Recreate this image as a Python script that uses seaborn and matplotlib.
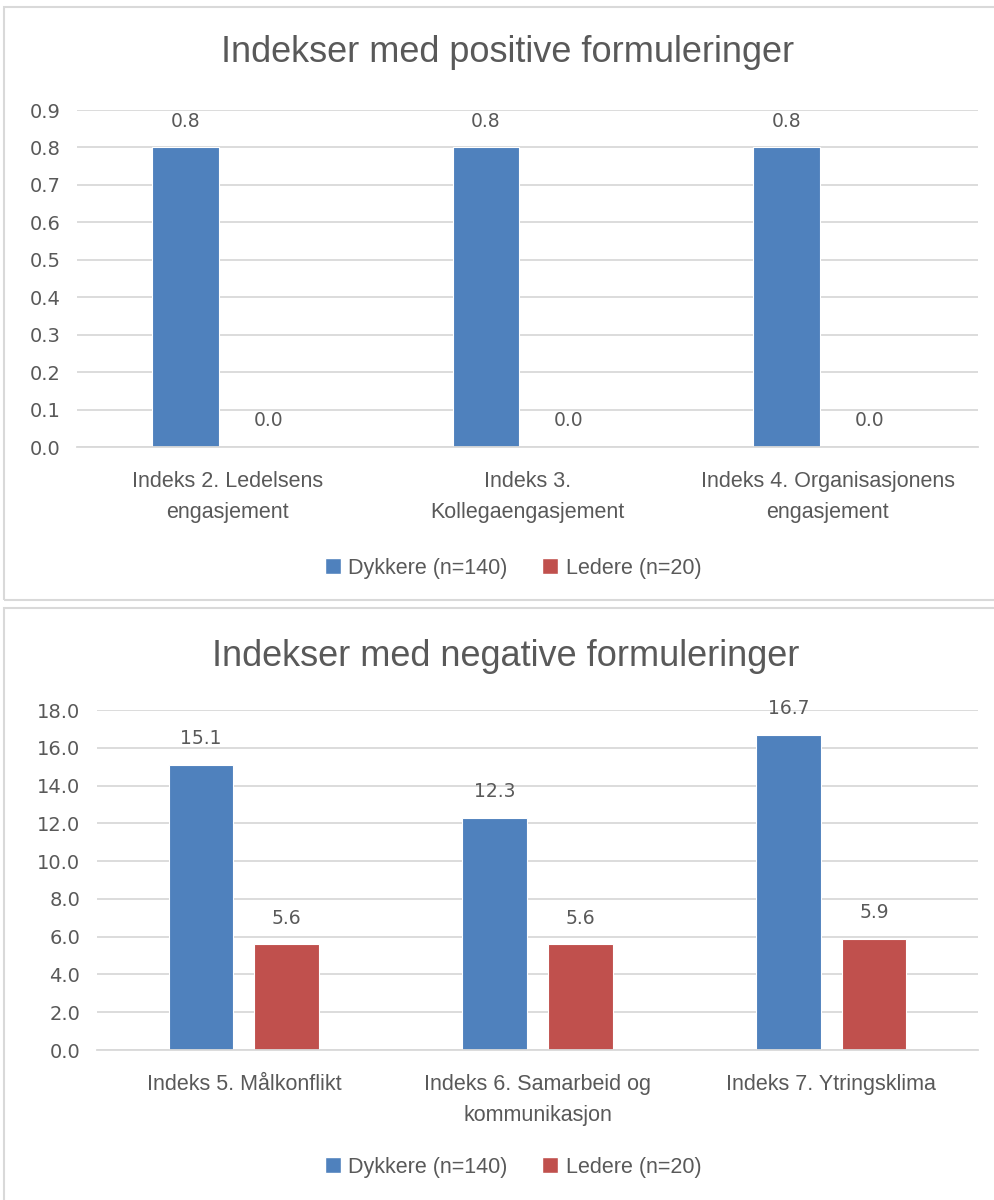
import matplotlib
matplotlib.use("Agg")
import matplotlib.pyplot as plt
from matplotlib import font_manager
from matplotlib.patches import Rectangle, Patch
from matplotlib.ticker import FormatStrFormatter
import seaborn as sns
import pandas as pd

# ---- data -------------------------------------------------------------
groups = ["Dykkere (n=140)", "Ledere (n=20)"]

pos_title = "Indekser med positive formuleringer"
pos_categories = ["Indeks 2. Ledelsens\nengasjement",
                  "Indeks 3.\nKollegaengasjement",
                  "Indeks 4. Organisasjonens\nengasjement"]
pos_dykkere = [0.8, 0.8, 0.8]
pos_ledere = [0.0, 0.0, 0.0]
pos_ticks = [0.0, 0.1, 0.2, 0.3, 0.4, 0.5, 0.6, 0.7, 0.8, 0.9]

neg_title = "Indekser med negative formuleringer"
neg_categories = ["Indeks 5. Målkonflikt",
                  "Indeks 6. Samarbeid og\nkommunikasjon",
                  "Indeks 7. Ytringsklima"]
neg_dykkere = [15.1, 12.3, 16.7]
neg_ledere = [5.6, 5.6, 5.9]
neg_ticks = [0.0, 2.0, 4.0, 6.0, 8.0, 10.0, 12.0, 14.0, 16.0, 18.0]

# ---- style ------------------------------------------------------------
BLUE = "#4F81BD"
RED = "#C0504D"
TEXT = "#595959"
GRID = "#D9D9D9"

sns.set_theme(style="white")


def pick_font(candidates):
    for name in candidates:
        try:
            font_manager.findfont(font_manager.FontProperties(family=name),
                                  fallback_to_default=False)
            return name
        except Exception:
            continue
    return "DejaVu Sans"


LABEL_FONT = pick_font(["Liberation Sans Narrow", "Liberation Sans", "DejaVu Sans"])
NUM_FONT = pick_font(["DejaVu Sans"])
plt.rcParams["font.family"] = [LABEL_FONT, "DejaVu Sans"]

W, H = 995, 1200
fig = plt.figure(figsize=(W / 100, H / 100), dpi=100)
fig.patch.set_facecolor("white")


def fx(px):
    return px / W


def fy(py):
    return 1 - py / H


def draw_panel(rect, title, title_xy, categories, dyk, led, ticks, fmt,
               width, gap, legend_xy):
    ax = fig.add_axes(rect)
    df = pd.DataFrame({
        "category": categories * 2,
        "group": [groups[0]] * len(categories) + [groups[1]] * len(categories),
        "value": list(dyk) + list(led),
    })
    sns.barplot(data=df, x="category", y="value", hue="group",
                order=categories, hue_order=groups,
                palette=[BLUE, RED], saturation=1, width=width, gap=gap,
                errorbar=None, legend=False, ax=ax,
                linewidth=0.8, edgecolor="#FFFFFF")
    for cont in ax.containers:
        ax.bar_label(cont, fmt="%.1f", padding=12, color=TEXT,
                     fontsize=13.5, family=NUM_FONT)

    ax.set_ylim(ticks[0], ticks[-1])
    ax.set_yticks(ticks)
    ax.yaxis.set_major_formatter(FormatStrFormatter(fmt))
    ax.set_xlim(-0.5, len(categories) - 0.5)
    ax.set_xlabel("")
    ax.set_ylabel("")
    ax.yaxis.grid(True, color=GRID, linewidth=1.3)
    ax.set_axisbelow(True)
    for side in ["top", "right", "left"]:
        ax.spines[side].set_visible(False)
    ax.spines["bottom"].set_color(GRID)
    ax.spines["bottom"].set_linewidth(1.3)
    ax.tick_params(axis="y", length=0, pad=12, labelcolor=TEXT, labelsize=14)
    ax.tick_params(axis="x", length=0, pad=17, labelcolor=TEXT, labelsize=15.5)
    for lbl in ax.get_yticklabels():
        lbl.set_family(NUM_FONT)
    for lbl in ax.get_xticklabels():
        lbl.set_linespacing(1.65)

    fig.text(title_xy[0], title_xy[1], title, ha="center", va="center",
             fontsize=26, color=TEXT)

    handles = [Patch(facecolor=BLUE), Patch(facecolor=RED)]
    fig.legend(handles, groups, loc="center", bbox_to_anchor=legend_xy,
               ncol=2, frameon=False, handlelength=0.75, handleheight=0.75,
               handletextpad=0.35, columnspacing=1.6,
               prop={"family": LABEL_FONT, "size": 15.5}, labelcolor=TEXT)
    return ax


# top panel
draw_panel([fx(77), fy(447), fx(978) - fx(77), fy(110) - fy(447)],
           pos_title, (fx(508), fy(52)), pos_categories, pos_dykkere,
           pos_ledere, pos_ticks, "%.1f", 0.553, 0.2, (fx(513), fy(568)))

# bottom panel
draw_panel([fx(97), fy(1050), fx(978) - fx(97), fy(710) - fy(1050)],
           neg_title, (fx(506), fy(657)), neg_categories, neg_dykkere,
           neg_ledere, neg_ticks, "%.1f", 0.583, 0.245, (fx(513), fy(1167)))

# chart-area frames
fig.add_artist(Rectangle((fx(4), fy(600)), fx(1000) - fx(4), fy(7) - fy(600),
                         transform=fig.transFigure, fill=False,
                         edgecolor=GRID, linewidth=1.5))
fig.add_artist(Rectangle((fx(4), fy(1210)), fx(1000) - fx(4), fy(608) - fy(1210),
                         transform=fig.transFigure, fill=False,
                         edgecolor=GRID, linewidth=1.5))

fig.savefig("out.png", dpi=100, facecolor="white")
